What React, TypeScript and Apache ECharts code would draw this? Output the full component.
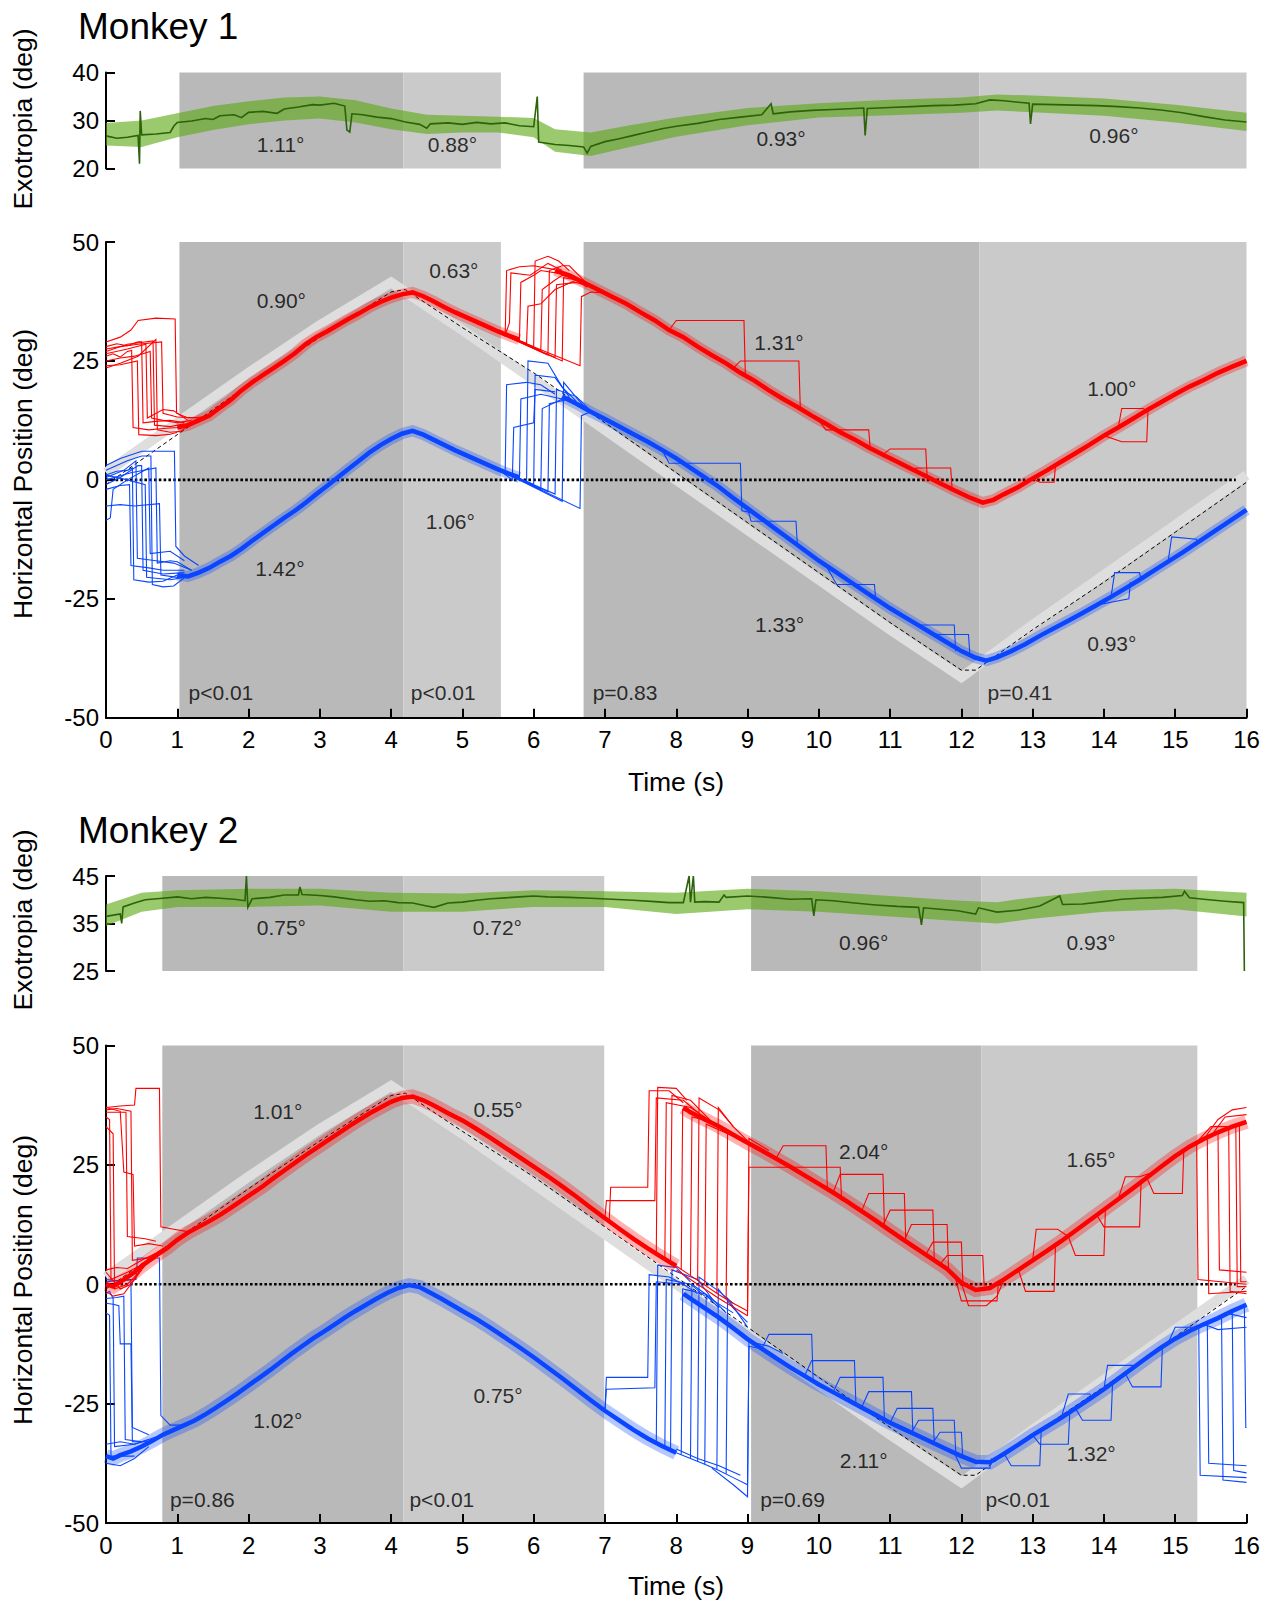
import React, { useEffect, useRef } from "react";
import * as echarts from "echarts";

type P = [number, number];
type Ann = [string, number, number];

const W = 1272;
const H = 1601;
const FONT = "'Liberation Sans', Arial, Helvetica, sans-serif";

// ---------- epochs (s) ----------
const M1_DARK: [number, number][] = [[1.03, 4.17], [6.7, 12.25]];
const M1_LIGHT: [number, number][] = [[4.17, 5.54], [12.25, 16]];
const M2_DARK: [number, number][] = [[0.79, 4.17], [9.05, 12.28]];
const M2_LIGHT: [number, number][] = [[4.17, 6.99], [12.28, 15.31]];

// ---------- target ----------
const TARGET_BAND: P[] = [[0, 1.5], [1, 12], [2, 22.5], [3, 32.5], [4, 41.5], [5, 31.5], [6, 21], [7, 10.5], [8, 0], [9, -10.5], [10, -21], [11, -31.5], [12, -41.5], [13, -30.5], [14, -20], [15, -9.5], [16, 1]];
const TARGET_LINE: P[] = [[0, -1], [1, 9.5], [2, 20], [3, 30], [4, 39.5], [4.2, 40], [5, 32], [6, 22.5], [7, 12], [8, 1.5], [9, -9], [10, -19.5], [11, -30], [12, -40], [12.2, -40], [13, -31.5], [14, -21.5], [15, -11], [16, -0.5]];
const ZERO_LINE: P[] = [[0, 0], [15.85, 0]];

// ---------- Monkey 1 exotropia ----------
const M1_EXO_MEAN: P[] = [[0, 26.8], [0.15, 26.3], [0.3, 26.5], [0.45, 26.9], [0.47, 21], [0.48, 32], [0.5, 27], [0.7, 27.2], [0.9, 27.5], [0.95, 28.8], [1.0, 29.6], [1.2, 29.9], [1.4, 30.4], [1.5, 30.2], [1.6, 31], [1.8, 31.2], [1.9, 30.6], [2.0, 31.7], [2.2, 31.9], [2.4, 31.5], [2.5, 32.4], [2.7, 32.8], [2.9, 33.3], [3.0, 33.2], [3.2, 33.6], [3.35, 33], [3.38, 28], [3.42, 27.6], [3.45, 31.4], [3.6, 31.2], [3.8, 30.7], [4.0, 30.4], [4.2, 29.7], [4.4, 29.2], [4.5, 28.4], [4.55, 29.3], [4.8, 29.5], [5.0, 29.2], [5.2, 29.6], [5.4, 29.3], [5.6, 29.5], [5.8, 28.9], [6.0, 28.7], [6.05, 35], [6.07, 25.5], [6.3, 25], [6.5, 24.8], [6.7, 24.5], [6.75, 23.2], [6.8, 24.6], [7.0, 25.6], [7.2, 26.2], [7.4, 26.9], [7.6, 27.6], [7.8, 28.3], [8.0, 28.8], [8.3, 29.4], [8.6, 30.2], [8.9, 30.7], [9.2, 31.2], [9.33, 33.5], [9.36, 31.4], [9.6, 31.8], [9.9, 32.1], [10.2, 32.3], [10.5, 32.5], [10.63, 32.6], [10.65, 26.9], [10.68, 32.5], [11.0, 32.7], [11.3, 32.9], [11.6, 33.1], [11.9, 33.2], [12.2, 33.5], [12.4, 34.3], [12.6, 34.1], [12.8, 33.8], [12.95, 33.6], [12.97, 29.3], [13.0, 33.4], [13.3, 33.3], [13.6, 33.2], [13.9, 33.1], [14.2, 32.9], [14.5, 32.6], [14.8, 32.2], [15.1, 31.6], [15.4, 30.8], [15.7, 30.1], [16.0, 29.7]];
const M1_EXO_T = [0, 0.5, 1, 1.5, 2, 2.5, 3, 3.5, 4, 4.5, 5, 5.5, 6, 6.3, 6.8, 7.35, 8, 9, 10, 11, 12, 12.5, 13, 14, 15, 16];
const M1_EXO_UPPER = [29.5, 30, 31.5, 33, 34, 34.8, 35, 34.2, 32.5, 31.2, 31, 30.8, 30.5, 28.2, 27.5, 29, 30.6, 32.6, 33.6, 34.3, 34.8, 35.4, 35.2, 34.6, 33.3, 31.6];
const M1_EXO_LOWER = [24.8, 24.5, 26.5, 28, 29.2, 30, 30.4, 29.6, 28.2, 27.2, 27.5, 27.5, 26.5, 23.5, 22.6, 24.5, 26.6, 29, 30.6, 31.1, 31.6, 32.1, 31.7, 31, 29.6, 27.8];

// ---------- Monkey 2 exotropia ----------
const M2_EXO_MEAN: P[] = [[0, 36.5], [0.2, 37], [0.22, 35], [0.24, 38.5], [0.4, 39.3], [0.55, 40], [0.8, 40.3], [1.0, 40.6], [1.2, 40.2], [1.4, 40.5], [1.6, 40.3], [1.8, 40.1], [1.95, 39.8], [1.97, 45], [1.99, 38.4], [2.05, 40.2], [2.3, 40.5], [2.5, 41], [2.7, 41], [2.72, 42.7], [2.75, 41.1], [3.0, 40.9], [3.2, 40.6], [3.5, 40], [3.7, 39.7], [3.9, 39.8], [4.1, 39.4], [4.3, 39.3], [4.5, 38.7], [4.6, 38.4], [4.8, 39.3], [5.0, 39.5], [5.2, 39.9], [5.4, 40.2], [5.6, 40.4], [5.8, 40.6], [6.0, 40.8], [6.2, 40.6], [6.5, 40.5], [6.8, 40.3], [7.1, 40.1], [7.4, 39.9], [7.7, 39.6], [7.9, 39.4], [8.1, 39.4], [8.18, 45], [8.2, 39.5], [8.24, 45], [8.26, 39.5], [8.4, 39.6], [8.6, 39.5], [8.67, 41], [8.7, 40.5], [9.0, 40.8], [9.3, 40.5], [9.6, 40.1], [9.9, 40.2], [9.93, 36.6], [9.96, 40], [10.2, 39.8], [10.5, 39.3], [10.8, 38.9], [11.1, 38.6], [11.4, 38.4], [11.44, 34.7], [11.47, 38.3], [11.7, 38], [11.95, 37.7], [12.2, 37], [12.24, 38.3], [12.5, 37.4], [12.8, 37.8], [13.1, 38.7], [13.38, 40.8], [13.42, 39], [13.7, 39.1], [14.0, 39.6], [14.25, 40.1], [14.5, 40.3], [14.82, 40.5], [15.1, 40.9], [15.13, 41.8], [15.2, 40.4], [15.4, 40.1], [15.7, 39.7], [15.96, 39.4], [15.97, 25]];
const M2_EXO_T = [0, 0.5, 1, 2, 3, 4, 5, 6, 7, 8, 9, 10, 11, 12, 12.5, 13, 14, 15, 16];
const M2_EXO_UPPER = [39, 41.5, 42, 42.3, 42.3, 41.5, 41.3, 42, 41.8, 41.5, 42.3, 41.8, 40.8, 39.8, 39.5, 40.5, 42, 42.3, 41.5];
const M2_EXO_LOWER = [34.5, 37.5, 38.5, 38.5, 38.8, 37.5, 37.5, 38.5, 38.5, 37, 38, 37.5, 36.5, 35.5, 35, 36, 37.5, 38, 36.5];

// ---------- Monkey 1 horizontal position ----------
const M1_RED_A: P[] = [[1.0, 11], [1.15, 11.5], [1.3, 12.5], [1.45, 13.5], [1.6, 15.2], [1.75, 16.8], [1.9, 18.8], [2.05, 20.5], [2.2, 22], [2.35, 23.5], [2.5, 25], [2.65, 26.6], [2.8, 28.5], [2.95, 30], [3.1, 31.2], [3.25, 32.5], [3.4, 33.8], [3.55, 35], [3.7, 36.3], [3.85, 37.4], [4.0, 38.3], [4.15, 39], [4.3, 39.4], [4.45, 38.6], [4.6, 37.5], [4.75, 36.3], [4.9, 35.2], [5.05, 34.2], [5.2, 33.2], [5.35, 32.2], [5.5, 31.2], [5.65, 30.3], [5.8, 29.5]];
const M1_RED_B: P[] = [[6.3, 44], [6.5, 43], [6.7, 41.5], [6.9, 40], [7.1, 38.5], [7.3, 37], [7.5, 35.2], [7.7, 33.5], [7.9, 31.5], [8.1, 30], [8.3, 28], [8.5, 26.2], [8.7, 24.5], [8.9, 22.5], [9.1, 20.8], [9.3, 18.8], [9.5, 17], [9.7, 15.3], [9.9, 13.5], [10.1, 11.8], [10.3, 10], [10.5, 8.5], [10.7, 6.8], [10.9, 5.3], [11.1, 3.8], [11.3, 2.3], [11.5, 0.8], [11.7, -0.7], [11.9, -2.2], [12.1, -3.6], [12.3, -4.8], [12.45, -4.2], [12.6, -3], [12.8, -1.5], [13.0, 0.3], [13.2, 2], [13.4, 3.8], [13.6, 5.6], [13.8, 7.4], [14.0, 9.3], [14.2, 11], [14.4, 12.8], [14.6, 14.6], [14.8, 16.3], [15.0, 18], [15.2, 19.6], [15.4, 21], [15.6, 22.5], [15.8, 23.8], [16.0, 25]];
const M1_RED_TRIALS: P[][] = [
  [[0, 26], [0.1, 26.5], [0.2, 25.8], [0.3, 27], [0.36, 27.2], [0.38, 11], [0.6, 10.5], [0.8, 10.8], [1.0, 11], [1.2, 12]],
  [[0, 28], [0.15, 28.6], [0.3, 28.2], [0.45, 29], [0.5, 29], [0.52, 12], [0.7, 12.3], [0.9, 12.5], [1.1, 12]],
  [[0, 25], [0.2, 25.6], [0.4, 26], [0.62, 27], [0.64, 13], [0.8, 12.5], [1.0, 12], [1.2, 12.5]],
  [[0, 23.5], [0.2, 24.5], [0.45, 26], [0.7, 29.5], [0.72, 10.5], [0.9, 10], [1.05, 10.2], [1.25, 12.5]],
  [[0, 27.5], [0.2, 28], [0.45, 28.5], [0.78, 29], [0.8, 14], [1.0, 13.2], [1.3, 13]],
  [[0, 29], [0.2, 30], [0.35, 31.5], [0.45, 33.5], [0.7, 34], [0.97, 33.8], [0.99, 14], [1.15, 13], [1.35, 13.2]],
  [[0, 24], [0.2, 24.2], [0.44, 25], [0.46, 9.5], [0.7, 9.3], [0.9, 9.6], [1.0, 10]],
  [[0, 26.5], [0.3, 27.5], [0.56, 28.5], [0.58, 13], [0.8, 14.8], [0.95, 14.5], [1.15, 12.5]],
  [[0, 27], [0.3, 28.5], [0.66, 29.2], [0.68, 11.5], [0.9, 11.2], [1.1, 11.8]],
  [[5.5, 31], [5.6, 30.2], [5.62, 44], [5.8, 44.8], [6.0, 45], [6.3, 44.2]],
  [[5.5, 31], [5.8, 29.4], [5.82, 41.5], [6.0, 43], [6.1, 44], [6.4, 43.3]],
  [[5.5, 31], [6.0, 28], [6.02, 46], [6.2, 47], [6.35, 46], [6.5, 44]],
  [[5.5, 31], [6.1, 27.2], [6.12, 40], [6.3, 42], [6.4, 43], [6.6, 42]],
  [[5.5, 31], [6.2, 26.2], [6.22, 44], [6.4, 45], [6.5, 45], [6.8, 40.5]],
  [[5.5, 31], [6.4, 25], [6.42, 42.5], [6.6, 42], [6.75, 40.5]],
  [[5.5, 31], [6.65, 24], [6.67, 38.5], [6.8, 39.5], [7.0, 39.3]],
  [[5.5, 31], [5.9, 28.7], [5.92, 36.5], [6.1, 37], [6.3, 40], [6.6, 42]],
  [[5.6, 30.5], [5.66, 33], [5.68, 43.5], [5.95, 43], [6.2, 45.5], [6.4, 44]],
  [[5.5, 31], [6.3, 25.7], [6.32, 41], [6.6, 41.5], [6.9, 40]],
  [[7.9, 31.5], [8.0, 33.5], [8.95, 33.5], [8.97, 21.5], [9.1, 20.8]],
  [[8.8, 23.5], [8.9, 25], [9.72, 25], [9.74, 15.3], [9.9, 13.5]],
  [[10.0, 12.5], [10.1, 10.5], [10.7, 10.5], [10.72, 6.8]],
  [[10.9, 5.3], [11.0, 6.5], [11.5, 6.5], [11.52, 0.5]],
  [[11.3, 2.3], [11.4, 2.5], [11.85, 2.5], [11.87, -2]],
  [[13.0, 0.3], [13.1, -0.5], [13.3, -0.5], [13.32, 3]],
  [[14.0, 9.3], [14.25, 8], [14.6, 8], [14.62, 15.2], [14.8, 16.3]],
  [[14.2, 11], [14.25, 15], [14.55, 15], [14.6, 14.6]],
];
const M1_BLUE_A: P[] = [[1.0, -20], [1.15, -20.3], [1.3, -19.5], [1.45, -18.5], [1.6, -17.2], [1.75, -16], [1.9, -14.5], [2.05, -12.8], [2.2, -11.2], [2.35, -9.6], [2.5, -8], [2.65, -6.5], [2.8, -4.8], [2.95, -3], [3.1, -1.3], [3.25, 0.5], [3.4, 2.3], [3.55, 4], [3.7, 5.8], [3.85, 7.3], [4.0, 8.6], [4.15, 9.7], [4.3, 10.3], [4.45, 9.5], [4.6, 8.4], [4.75, 7.3], [4.9, 6.2], [5.05, 5.2], [5.2, 4.2], [5.35, 3.2], [5.5, 2.2], [5.65, 1.3], [5.8, 0.5]];
const M1_BLUE_B: P[] = [[6.4, 17.5], [6.6, 16], [6.8, 14.3], [7.0, 12.8], [7.2, 11.2], [7.4, 9.6], [7.6, 8], [7.8, 6.3], [8.0, 4.5], [8.2, 2.5], [8.4, 0.5], [8.6, -1.5], [8.8, -3.8], [9.0, -6], [9.2, -8.2], [9.4, -10.4], [9.6, -12.6], [9.8, -14.8], [10.0, -17], [10.2, -19], [10.4, -21], [10.6, -23], [10.8, -25], [11.0, -27], [11.2, -28.8], [11.4, -30.6], [11.6, -32.4], [11.8, -34.2], [12.0, -36], [12.2, -37.4], [12.35, -38], [12.5, -37.3], [12.7, -36], [12.9, -34.5], [13.1, -32.8], [13.3, -31.2], [13.5, -29.6], [13.7, -28], [13.9, -26.3], [14.1, -24.6], [14.3, -22.8], [14.5, -21], [14.7, -19.1], [14.9, -17.2], [15.1, -15.3], [15.3, -13.3], [15.5, -11.3], [15.7, -9.3], [15.9, -7.3], [16.0, -6.3]];
const M1_BLUE_TRIALS: P[][] = [
  [[0, 1], [0.15, 1.8], [0.3, 2], [0.37, 2.5], [0.39, -21], [0.6, -21.5], [0.8, -21.3], [1.0, -20]],
  [[0, -1], [0.2, 0.5], [0.45, 3], [0.5, 3], [0.52, -19], [0.8, -19.8], [1.1, -19.5]],
  [[0, 2], [0.3, 4], [0.5, 5], [0.63, 5], [0.65, -22], [0.8, -22.5], [0.95, -22.3], [1.15, -20]],
  [[0, 0], [0.35, 1.5], [0.7, 2.5], [0.72, -17.5], [0.9, -17], [1.0, -17.2], [1.2, -19]],
  [[0, -5.5], [0.2, -5.2], [0.4, -5.5], [0.75, -5], [0.77, -20], [1.0, -20.5], [1.2, -20]],
  [[0, 3], [0.2, 4.5], [0.5, 6], [0.96, 6], [0.98, -14], [1.1, -16], [1.3, -18]],
  [[0, 1], [0.3, 0], [0.55, -1], [0.57, -20.5], [0.9, -21], [1.1, -20.5]],
  [[0, -2], [0.2, -1.2], [0.33, -1], [0.35, -18], [0.6, -18.5], [0.8, -19], [1.1, -19]],
  [[0, -8.5], [0.06, -8], [0.1, -2], [0.3, 0], [0.6, 2.5], [0.62, -15.5], [0.9, -15], [1.1, -17]],
  [[0, 0.5], [0.25, 2], [0.42, 4], [0.44, -16.5], [0.7, -17], [0.95, -17.5], [1.2, -19]],
  [[5.5, 2.2], [5.6, 1.5], [5.62, 20], [5.9, 20.5], [6.1, 20], [6.3, 18]],
  [[5.5, 2.2], [5.8, 0.2], [5.82, 17], [6.1, 18], [6.4, 17]],
  [[5.5, 2.2], [6.0, -1], [6.02, 22], [6.3, 21.5], [6.5, 17.5]],
  [[5.5, 2.2], [6.1, -2], [6.12, 15], [6.4, 17], [6.6, 16]],
  [[5.5, 2.2], [6.3, -3], [6.32, 19], [6.6, 17.5], [6.8, 14.5]],
  [[5.5, 2.2], [6.65, -6], [6.67, 13.5], [6.8, 14.3]],
  [[5.5, 2.2], [5.9, -0.5], [5.92, 25], [6.2, 24.5], [6.4, 19.5], [6.6, 16.5]],
  [[5.5, 2.2], [6.4, -4.5], [6.42, 20.5], [6.7, 15.5]],
  [[5.5, 2.2], [5.7, 0], [5.72, 11], [6.0, 12], [6.02, 19], [6.3, 18.5]],
  [[5.5, 2.2], [6.2, -2.5], [6.22, 16], [6.5, 17]],
  [[7.8, 6.3], [7.9, 3.5], [8.9, 3.5], [8.92, -6.5], [9.1, -7]],
  [[9.0, -6], [9.05, -8.7], [9.68, -8.7], [9.7, -14]],
  [[10.1, -18], [10.25, -22], [10.78, -22], [10.8, -25.5]],
  [[11.3, -29.7], [11.4, -30.5], [11.9, -30.5], [11.92, -36]],
  [[11.6, -32.4], [11.7, -32.5], [12.1, -32.5], [12.12, -37]],
  [[13.8, -27], [13.9, -26.3], [14.35, -25], [14.37, -21.5]],
  [[14.1, -24.6], [14.15, -19.5], [14.5, -19.5], [14.52, -21]],
  [[14.9, -17.2], [14.95, -12], [15.3, -12.5], [15.32, -13.5]],
];

// ---------- Monkey 2 horizontal position ----------
const M2_RED_A: P[] = [[0, 0], [0.1, -0.5], [0.2, 0.5], [0.3, 1.5], [0.4, 2.5], [0.5, 3.8], [0.7, 6], [0.85, 7.5], [1.0, 9.3], [1.15, 10.8], [1.3, 12], [1.45, 13.2], [1.6, 14.5], [1.75, 16], [1.9, 17.5], [2.05, 19], [2.2, 20.5], [2.35, 22.2], [2.5, 23.8], [2.65, 25.4], [2.8, 27], [2.95, 28.5], [3.1, 30], [3.25, 31.5], [3.4, 33], [3.55, 34.4], [3.7, 35.8], [3.85, 37], [4.0, 38.2], [4.15, 39], [4.3, 39.3], [4.45, 38.5], [4.6, 37.4], [4.8, 35.8], [5.0, 34.3], [5.2, 32.5], [5.4, 30.6], [5.6, 28.6], [5.8, 26.6], [6.0, 24.6], [6.2, 22.6], [6.4, 20.5], [6.6, 18.3], [6.8, 16], [7.0, 13.8], [7.2, 11.6], [7.4, 9.5], [7.6, 7.5], [7.8, 5.6], [8.0, 3.8]];
const M2_RED_B: P[] = [[8.1, 37], [8.2, 36], [8.4, 34.5], [8.6, 33], [8.8, 31.3], [9.0, 29.6], [9.2, 28], [9.4, 26.3], [9.6, 24.6], [9.8, 22.8], [10.0, 21], [10.2, 19.2], [10.4, 17.3], [10.6, 15.3], [10.8, 13.3], [11.0, 11.2], [11.2, 9.2], [11.4, 7.2], [11.6, 5.2], [11.8, 3.2], [12.0, 0.3], [12.2, -1.2], [12.4, -0.8], [12.6, 1], [12.8, 3], [13.0, 5], [13.2, 7], [13.4, 9], [13.6, 11.2], [13.8, 13.4], [14.0, 15.6], [14.2, 17.8], [14.4, 20], [14.6, 22.3], [14.8, 24.6], [15.0, 26.8], [15.2, 28.8], [15.4, 30.4], [15.6, 31.8], [15.8, 33], [16.0, 34]];
const M2_RED_TRIALS: P[][] = [
  [[0, 36.5], [0.15, 36.8], [0.35, 36.2], [0.37, 5], [0.6, 5.5], [0.8, 7.5]],
  [[0, 37], [0.2, 37.3], [0.4, 37.5], [0.42, 41], [0.75, 41], [0.77, 12], [0.95, 11.5], [1.15, 11]],
  [[0, 35], [0.05, 34.5], [0.07, 1], [0.3, 2.5], [0.5, 4]],
  [[0, 33], [0.1, 31.5], [0.12, -1], [0.3, 0], [0.5, 3]],
  [[0, 37], [0.2, 36.2], [0.25, 23.5], [0.38, 23], [0.4, 8], [0.6, 8.5], [0.8, 8]],
  [[0, 2.5], [0.2, -1], [0.35, 0], [0.5, 3.5], [0.7, 5.5]],
  [[0, -1.5], [0.1, -2.5], [0.25, -2], [0.45, 2], [0.6, 5]],
  [[0, 3], [0.15, 3.5], [0.3, 3.3], [0.5, 5], [0.7, 6.5]],
  [[0, 36], [0.28, 36], [0.3, 10], [0.55, 9.5], [0.7, 9]],
  [[8.0, 3.8], [8.2, 1.8], [8.4, -0.2], [8.6, -2.2], [8.8, -4], [9.0, -5.6]],
  [[8.0, 3], [8.3, 0], [8.6, -3], [9.0, -6.6]],
  [[7.0, 13.8], [7.06, 13.3], [7.08, 20.3], [7.6, 20.3], [7.62, 40.5], [7.9, 40.5], [8.1, 38]],
  [[7.0, 13.8], [7.02, 17.5], [7.7, 17.5], [7.72, 39], [8.1, 38.5], [8.3, 36]],
  [[7.84, 5.4], [7.86, 38], [8.2, 37], [8.4, 35]],
  [[7.92, 4.8], [7.94, 39.5], [8.2, 38.5], [8.5, 34]],
  [[8.07, 3], [8.09, 36.5], [8.4, 35], [8.6, 33]],
  [[8.2, 1.8], [8.22, 35], [8.5, 34], [8.7, 32]],
  [[8.4, -0.2], [8.42, 33.5], [8.8, 31]],
  [[8.57, -1.9], [8.59, 37], [8.8, 33], [9.0, 30]],
  [[8.7, -3.1], [8.72, 32], [9.0, 29.5]],
  [[9.0, -5.6], [9.02, 24.5], [10.3, 24.5], [10.32, 17.5]],
  [[7.72, 6.8], [7.74, 41.2], [8.0, 41], [8.15, 38.5]],
  [[8.3, 0.8], [8.32, 39], [8.6, 36.5], [8.8, 33]],
  [[9.0, -6.6], [9.02, 30.5], [9.3, 28]],
  [[9.4, 26.3], [9.5, 29], [10.1, 29], [10.12, 20]],
  [[10.2, 19.2], [10.3, 23], [10.9, 23], [10.92, 12.5]],
  [[10.6, 15.3], [10.7, 19], [11.2, 19], [11.22, 9]],
  [[10.9, 12.3], [11.0, 15.5], [11.6, 15.5], [11.62, 5]],
  [[11.2, 9.2], [11.3, 12.5], [11.8, 12.5], [11.82, 3]],
  [[11.5, 6.2], [11.6, 8.8], [12.0, 8.8], [12.02, 0.5]],
  [[11.7, 4.2], [11.8, 6], [12.3, 6], [12.32, -0.5]],
  [[11.9, 2.2], [12.0, -3.5], [12.5, -3.5], [12.52, 0.5]],
  [[12.0, 0.3], [12.1, -4.5], [12.35, -4.5], [12.5, -2.5], [12.6, 1]],
  [[12.8, 3], [12.9, -1.5], [13.3, -1.5], [13.32, 8]],
  [[13.0, 5], [13.05, 11.5], [13.35, 11.5], [13.5, 10]],
  [[13.5, 10], [13.6, 6], [14.0, 6], [14.02, 15.5]],
  [[13.9, 14.5], [14.0, 12], [14.5, 12], [14.52, 21]],
  [[14.2, 17.8], [14.3, 22.5], [14.5, 22.5], [14.7, 23.5]],
  [[14.6, 22.3], [14.7, 19], [15.1, 19], [15.12, 28]],
  [[15.3, 29.7], [15.32, 1], [16, 0]],
  [[15.45, 30.7], [15.47, -2], [16, -1.5]],
  [[15.6, 31.8], [15.62, 3], [16, 2.5]],
  [[15.75, 32.7], [15.77, -1.5], [16, -2]],
  [[15.4, 30.4], [15.6, 34.5], [15.8, 36.5], [16, 37]],
  [[15.5, 31], [15.7, 35], [16, 35.5]],
  [[15.9, 33.5], [15.92, 0.5], [16, 0.5]],
  [[15.3, 29.7], [15.5, 33], [15.85, 33], [15.87, -0.5], [16, -0.5]],
];
const M2_BLUE_A: P[] = [[0, -36], [0.1, -36.5], [0.2, -35.8], [0.35, -35], [0.5, -34], [0.65, -32.8], [0.8, -31.5], [0.95, -30.5], [1.1, -29.5], [1.25, -28.5], [1.4, -27.2], [1.55, -25.8], [1.7, -24.3], [1.85, -22.8], [2.0, -21.2], [2.15, -19.6], [2.3, -18], [2.45, -16.3], [2.6, -14.6], [2.75, -13], [2.9, -11.4], [3.05, -10], [3.2, -8.5], [3.35, -7], [3.5, -5.6], [3.65, -4.3], [3.8, -3], [3.95, -1.8], [4.1, -0.8], [4.25, -0.2], [4.4, -0.6], [4.55, -1.8], [4.7, -3], [4.85, -4.3], [5.0, -5.6], [5.2, -7.3], [5.4, -9.2], [5.6, -11.2], [5.8, -13.2], [6.0, -15.3], [6.2, -17.5], [6.4, -19.7], [6.6, -22], [6.8, -24.3], [7.0, -26.5], [7.2, -28.5], [7.4, -30.5], [7.6, -32.3], [7.8, -33.9], [8.0, -35.3]];
const M2_BLUE_B: P[] = [[8.1, -2], [8.2, -3], [8.4, -5], [8.6, -7], [8.8, -9.2], [9.0, -11.5], [9.2, -13.5], [9.4, -15.5], [9.6, -17.4], [9.8, -19.2], [10.0, -21], [10.2, -22.6], [10.4, -24.2], [10.6, -25.8], [10.8, -27.4], [11.0, -29], [11.2, -30.4], [11.4, -31.8], [11.6, -33.2], [11.8, -34.6], [12.0, -36], [12.2, -37.2], [12.4, -37.3], [12.6, -35.5], [12.8, -33.6], [13.0, -31.6], [13.2, -29.8], [13.4, -28], [13.6, -26], [13.8, -24], [14.0, -22], [14.2, -19.8], [14.4, -17.6], [14.6, -15.4], [14.8, -13.3], [15.0, -11.4], [15.2, -9.8], [15.4, -8.4], [15.6, -7.1], [15.8, -5.6], [16.0, -4.3]];
const M2_BLUE_TRIALS: P[][] = [
  [[0, -2], [0.05, -1.5], [0.1, -3], [0.12, -34], [0.4, -33.5], [0.7, -32]],
  [[0, -4], [0.1, -4.2], [0.18, -4.5], [0.2, -12.5], [0.35, -12.5], [0.37, -33], [0.6, -33]],
  [[0, 0.5], [0.2, 0.8], [0.42, 1], [0.44, 5.5], [0.75, 5.5], [0.77, -27.5], [0.9, -29.5], [1.1, -29.5]],
  [[0, -6], [0.05, -6.5], [0.07, -36], [0.4, -36]],
  [[0, 1], [0.2, 0.6], [0.35, 1], [0.37, -30], [0.6, -31.5]],
  [[0, -3], [0.15, -2.8], [0.25, -2.5], [0.27, -32.5], [0.5, -33]],
  [[0, -37.5], [0.2, -38], [0.4, -36.5], [0.6, -34]],
  [[0, -33.5], [0.2, -33], [0.4, -33.5], [0.6, -32.5]],
  [[8.0, -35.3], [8.2, -36.5], [8.4, -37.7], [8.6, -39], [8.8, -40.5], [9.0, -42]],
  [[8.0, -34.5], [8.3, -36.5], [8.6, -38], [8.9, -40]],
  [[7.0, -26.5], [7.02, -19.5], [7.6, -19.5], [7.62, 2], [7.9, 1.5], [8.1, 0]],
  [[7.0, -26.5], [7.02, -22], [7.7, -21.7], [7.72, 0.5], [8.1, 0], [8.3, -2]],
  [[7.84, -34.2], [7.86, 1], [8.2, 0], [8.4, -2.5]],
  [[7.92, -34.7], [7.94, 3], [8.3, 1], [8.5, -3]],
  [[8.07, -35.7], [8.09, -1], [8.4, -2], [8.6, -5]],
  [[8.2, -36.5], [8.22, 0], [8.5, -3], [8.7, -6]],
  [[8.4, -37.7], [8.42, -2.5], [8.8, -6]],
  [[8.57, -38.8], [8.59, -1], [8.8, -5], [9.0, -8]],
  [[8.7, -39.7], [8.72, -3], [9.0, -9]],
  [[9.0, -42], [9.02, -12], [9.3, -13], [9.5, -14.5]],
  [[8.5, -38.5], [8.8, -42], [9.0, -44.5], [9.02, -13], [9.2, -13.5]],
  [[7.72, -33], [7.74, 4], [8.0, 3.5], [8.2, 0.5]],
  [[8.3, -37], [8.32, 1.5], [8.6, -1.5], [8.8, -4]],
  [[9.2, -13.5], [9.3, -10.5], [9.9, -10.5], [9.92, -20]],
  [[9.8, -19.2], [9.9, -16], [10.5, -16], [10.52, -25]],
  [[10.2, -22.6], [10.3, -19.5], [10.9, -19.5], [10.92, -28]],
  [[10.6, -25.8], [10.7, -22.5], [11.3, -22.5], [11.32, -31.5]],
  [[11.0, -29], [11.1, -26], [11.6, -26], [11.62, -33.5]],
  [[11.3, -31], [11.4, -28.5], [11.9, -28.5], [11.92, -35]],
  [[11.6, -33.2], [11.7, -31], [12.0, -31], [12.02, -36.5]],
  [[11.9, -35.3], [12.0, -38.5], [12.4, -38.5], [12.42, -36.5]],
  [[12.6, -35.5], [12.7, -38], [13.1, -38], [13.12, -30.5]],
  [[13.0, -31.6], [13.1, -33.5], [13.5, -33.5], [13.52, -27]],
  [[13.4, -28], [13.5, -23], [13.8, -23], [13.85, -24]],
  [[13.6, -26], [13.7, -28.5], [14.1, -28.5], [14.12, -21]],
  [[14.0, -22], [14.05, -17], [14.4, -17], [14.45, -17.3]],
  [[14.3, -18.7], [14.4, -21.5], [14.8, -21.5], [14.82, -13]],
  [[14.9, -12.3], [15.0, -9], [15.3, -9], [15.32, -9.2]],
  [[15.33, -9], [15.35, -40], [16, -40.5]],
  [[15.45, -8], [15.47, -37.5], [16, -38]],
  [[15.65, -6.9], [15.67, -41], [16, -41.5]],
  [[15.8, -5.6], [15.82, -39], [16, -39.5]],
  [[15.97, -4.4], [15.99, -30], [16, -30]],
  [[15.4, -8.4], [15.6, -9.5], [16, -9]],
  [[15.5, -7.8], [15.7, -6], [16, -7]],
];

// ---------- annotations [text, t, value] ----------
const M1_EXO_ANN: Ann[] = [["1.11°", 2.45, 25.1], ["0.88°", 4.86, 25.1], ["0.93°", 9.47, 26.2], ["0.96°", 14.14, 26.8]];
const M1_POS_ANN: Ann[] = [["0.90°", 2.46, 37.8], ["0.63°", 4.88, 44], ["1.31°", 9.44, 28.8], ["1.00°", 14.11, 19.3], ["1.06°", 4.83, -8.8], ["1.42°", 2.44, -18.7], ["1.33°", 9.45, -30.5], ["0.93°", 14.11, -34.3]];
const M1_P_ANN: Ann[] = [["p<0.01", 1.15, -44.8], ["p<0.01", 4.27, -44.8], ["p=0.83", 6.82, -44.8], ["p=0.41", 12.36, -44.8]];
const M2_EXO_ANN: Ann[] = [["0.75°", 2.46, 34.2], ["0.72°", 5.49, 34.2], ["0.96°", 10.63, 31], ["0.93°", 13.82, 31]];
const M2_POS_ANN: Ann[] = [["1.01°", 2.41, 36.1], ["0.55°", 5.5, 36.5], ["2.04°", 10.63, 27.8], ["1.65°", 13.82, 26.1], ["1.02°", 2.41, -28.6], ["0.75°", 5.5, -23.3], ["2.11°", 10.63, -37], ["1.32°", 13.82, -35.5]];
const M2_P_ANN: Ann[] = [["p=0.86", 0.89, -45.1], ["p<0.01", 4.25, -45.1], ["p=0.69", 9.17, -45.1], ["p<0.01", 12.33, -45.1]];

// ---------- styling ----------
const DARK_SHADE = "#b9b9b9";
const LIGHT_SHADE = "#cacaca";
const BAND_COLOR = "#dedede";
const RED = "#ff0000";
const BLUE = "#0a46ff";
const GREEN_LIGHT = "rgba(92,170,20,0.62)";
const GREEN_DARK = "#2c6208";

const GRIDS = [
  { left: 106, top: 72.5, width: 1140.5, height: 96 },
  { left: 106, top: 242, width: 1140.5, height: 475.7 },
  { left: 106, top: 876, width: 1140.5, height: 95 },
  { left: 106, top: 1045.4, width: 1140.5, height: 477.6 },
];
const Y_RANGES: [number, number, number][] = [[20, 40, 10], [-50, 50, 25], [25, 45, 10], [-50, 50, 25]];

function shade(epochs: [number, number][], color: string, gi: number): any {
  const [ymin, ymax] = Y_RANGES[gi];
  return {
    type: "custom", xAxisIndex: gi, yAxisIndex: gi, silent: true, z: 0,
    data: epochs.map((e) => [e[0], e[1]]),
    renderItem: (_p: any, api: any) => {
      const a = api.coord([api.value(0), ymax]);
      const b = api.coord([api.value(1), ymin]);
      return { type: "rect", shape: { x: a[0], y: a[1], width: b[0] - a[0], height: b[1] - a[1] }, style: { fill: color } };
    },
  };
}

function band(ts: number[], up: number[], lo: number[], gi: number): any {
  return {
    type: "custom", xAxisIndex: gi, yAxisIndex: gi, silent: true, z: 1,
    data: [[ts[0], up[0]]],
    renderItem: (_p: any, api: any) => {
      const top = ts.map((t, i) => api.coord([t, up[i]]));
      const bot = ts.map((t, i) => api.coord([t, lo[i]])).reverse();
      return { type: "polygon", shape: { points: top.concat(bot) }, style: { fill: GREEN_LIGHT } };
    },
  };
}

function line(data: P[], color: string, width: number, gi: number, z: number, type: any = "solid", opacity = 1): any {
  return {
    type: "line", xAxisIndex: gi, yAxisIndex: gi, data, showSymbol: false, symbol: "none",
    silent: true, z, lineStyle: { color, width, type, opacity, join: "miter" }, emphasis: { disabled: true },
  };
}

function labels(items: Ann[], gi: number, left: boolean): any {
  return {
    type: "scatter", xAxisIndex: gi, yAxisIndex: gi, symbolSize: 1, silent: true, z: 10,
    itemStyle: { color: "rgba(0,0,0,0)" },
    data: items.map((a) => ({ value: [a[1], a[2]], label: { formatter: a[0] } })),
    label: {
      show: true, position: left ? "right" : "inside", distance: 0,
      align: left ? "left" : "center", verticalAlign: "middle",
      color: "#000", fontSize: 21, fontFamily: FONT,
    },
  };
}

function buildOption(): any {
  const series: any[] = [];
  const monkeys = [
    { exo: 0, pos: 1, spread: 11, dark: M1_DARK, light: M1_LIGHT, exoT: M1_EXO_T, exoU: M1_EXO_UPPER, exoL: M1_EXO_LOWER, exoMean: M1_EXO_MEAN,
      redA: M1_RED_A, redB: M1_RED_B, redT: M1_RED_TRIALS, blueA: M1_BLUE_A, blueB: M1_BLUE_B, blueT: M1_BLUE_TRIALS,
      exoAnn: M1_EXO_ANN, posAnn: M1_POS_ANN, pAnn: M1_P_ANN },
    { exo: 2, pos: 3, spread: 14, dark: M2_DARK, light: M2_LIGHT, exoT: M2_EXO_T, exoU: M2_EXO_UPPER, exoL: M2_EXO_LOWER, exoMean: M2_EXO_MEAN,
      redA: M2_RED_A, redB: M2_RED_B, redT: M2_RED_TRIALS, blueA: M2_BLUE_A, blueB: M2_BLUE_B, blueT: M2_BLUE_TRIALS,
      exoAnn: M2_EXO_ANN, posAnn: M2_POS_ANN, pAnn: M2_P_ANN },
  ];
  for (const m of monkeys) {
    series.push(shade(m.dark, DARK_SHADE, m.exo), shade(m.light, LIGHT_SHADE, m.exo));
    series.push(band(m.exoT, m.exoU, m.exoL, m.exo));
    series.push(line(m.exoMean, GREEN_DARK, 1.6, m.exo, 3));
    series.push(labels(m.exoAnn, m.exo, false));

    series.push(shade(m.dark, DARK_SHADE, m.pos), shade(m.light, LIGHT_SHADE, m.pos));
    series.push(line(TARGET_BAND, BAND_COLOR, 10, m.pos, 1));
    series.push(line(TARGET_LINE, "#000", 1, m.pos, 1, [4, 3]));
    series.push(line(ZERO_LINE, "#000", 2.6, m.pos, 1, [2.6, 2.2]));
    for (const tr of m.blueT) series.push(line(tr, BLUE, 1.1, m.pos, 2));
    series.push(line(m.blueA, BLUE, m.spread, m.pos, 2, "solid", 0.3), line(m.blueB, BLUE, m.spread, m.pos, 2, "solid", 0.3));
    series.push(line(m.blueA, BLUE, 4.5, m.pos, 2), line(m.blueB, BLUE, 4.5, m.pos, 2));
    for (const tr of m.redT) series.push(line(tr, RED, 1.1, m.pos, 3));
    series.push(line(m.redA, RED, m.spread, m.pos, 3, "solid", 0.3), line(m.redB, RED, m.spread, m.pos, 3, "solid", 0.3));
    series.push(line(m.redA, RED, 4.5, m.pos, 3), line(m.redB, RED, 4.5, m.pos, 3));
    series.push(labels(m.posAnn, m.pos, false));
    series.push(labels(m.pAnn, m.pos, true));
  }

  const axisLine = { show: true, onZero: false, lineStyle: { color: "#000", width: 2 } };
  const axisTick = { show: true, inside: true, length: 9, lineStyle: { color: "#000", width: 2 } };
  const xAxis = GRIDS.map((_g, i) => ({
    type: "value", gridIndex: i, min: 0, max: 16, interval: 1, show: i % 2 === 1,
    axisLine, axisTick, splitLine: { show: false },
    axisLabel: { show: true, color: "#000", fontSize: 24, fontFamily: FONT, margin: 10, showMinLabel: true, showMaxLabel: true },
  }));
  const yAxis = GRIDS.map((_g, i) => ({
    type: "value", gridIndex: i, min: Y_RANGES[i][0], max: Y_RANGES[i][1], interval: Y_RANGES[i][2],
    axisLine, axisTick, splitLine: { show: false },
    axisLabel: { show: true, color: "#000", fontSize: 24, fontFamily: FONT, margin: 7, showMinLabel: true, showMaxLabel: true },
  }));

  const txt = (text: string, x: number, y: number, size: number, rot = 0, align = "center") => ({
    type: "text", x, y, rotation: rot, silent: true, z: 20,
    style: { text, fill: "#000", font: `${size}px ${FONT}`, align, verticalAlign: "middle" },
  });

  return {
    animation: false,
    backgroundColor: "#fff",
    grid: GRIDS.map((g) => ({ ...g, containLabel: false })),
    xAxis, yAxis, series,
    graphic: [
      txt("Monkey 1", 78, 26, 37, 0, "left"),
      txt("Monkey 2", 78, 830, 37, 0, "left"),
      txt("Exotropia (deg)", 23, 119, 26.5, Math.PI / 2),
      txt("Horizontal Position (deg)", 23, 474, 26.5, Math.PI / 2),
      txt("Exotropia (deg)", 23, 920, 26.5, Math.PI / 2),
      txt("Horizontal Position (deg)", 23, 1280, 26.5, Math.PI / 2),
      txt("Time (s)", 676, 782, 26.5),
      txt("Time (s)", 676, 1586, 26.5),
    ],
  };
}

export default function App() {
  const ref = useRef<HTMLDivElement>(null);
  useEffect(() => {
    if (!ref.current) return;
    const chart = echarts.init(ref.current, undefined, { renderer: "svg", width: W, height: H });
    chart.setOption(buildOption());
    return () => chart.dispose();
  }, []);
  return <div ref={ref} style={{ position: "absolute", left: 0, top: 0, width: W, height: H, background: "#fff" }} />;
}
